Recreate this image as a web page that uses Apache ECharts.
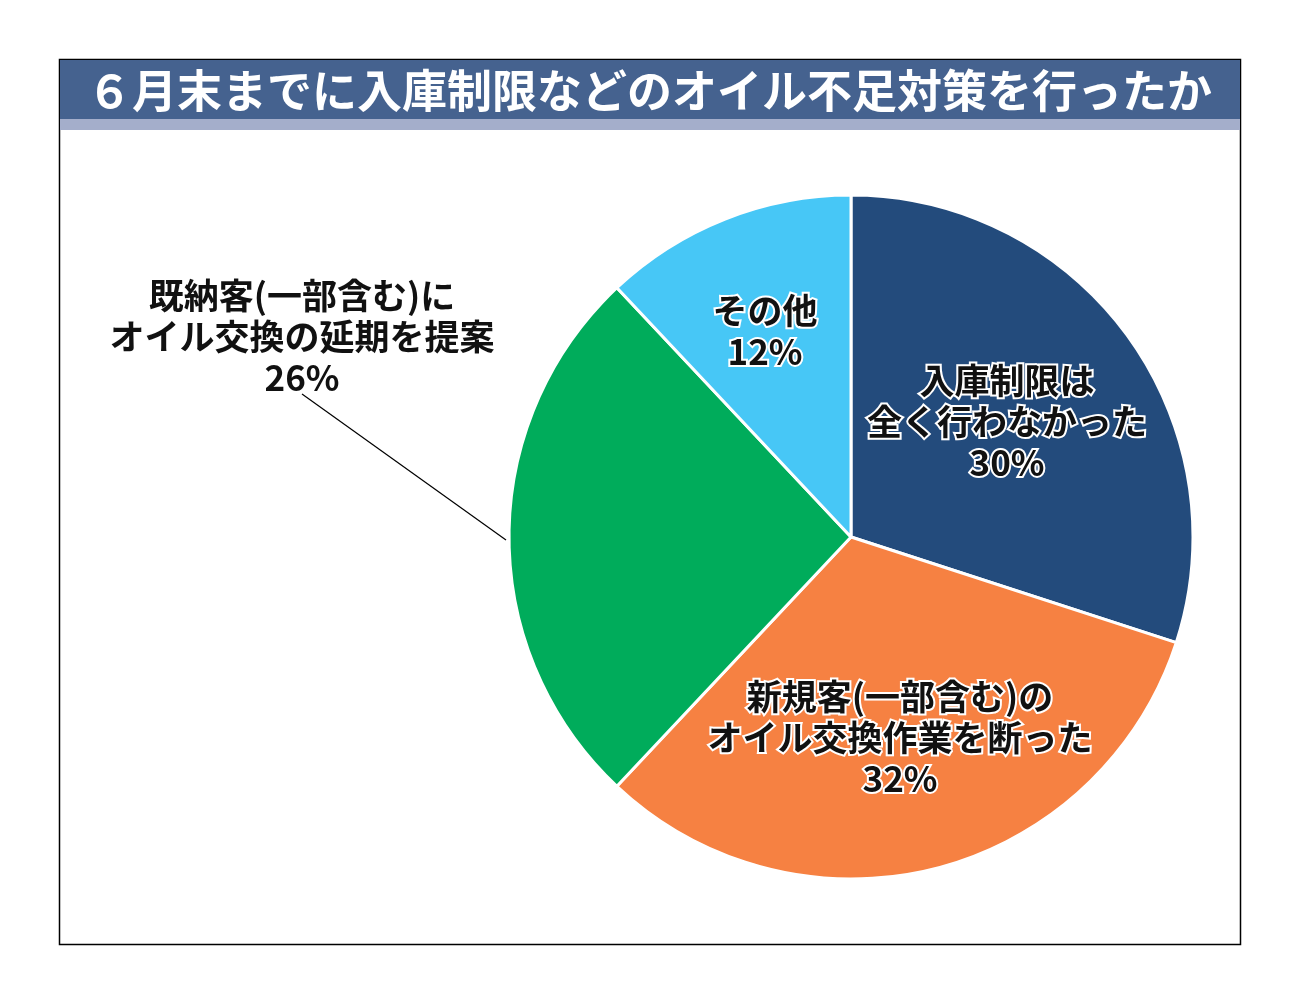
<!DOCTYPE html>
<html lang="ja">
<head>
    <meta charset="UTF-8">
    <title>6月末までに入庫制限などのオイル不足対策を行ったか</title>
    <script src="https://cdn.jsdelivr.net/npm/echarts@6/dist/echarts.min.js"></script>
    <style>
        html, body { margin: 0; padding: 0; background: #ffffff; }
        #main { width: 1299px; height: 1004px; }
    </style>
</head>
<body>
<div id="main"></div>
<script type="text/javascript">
    // データ
    var titleText = '６月末までに入庫制限などのオイル不足対策を行ったか';
    var categories = ['入庫制限は\n全く行わなかった', '新規客(一部含む)の\nオイル交換作業を断った', '既納客(一部含む)に\nオイル交換の延期を提案', 'その他'];
    var values = [30, 32, 26, 12];
    var colors = ['#234b7c', '#f68142', '#00ac5b', '#47c7f6'];

    // ラベルの中心位置（ピクセル）
    var labelCenters = [[1007, 422], [900, 738], [302, 337], [765, 331]];

    var chart = echarts.init(document.getElementById('main'));

    var pieData = categories.map(function (name, i) {
        var item = { name: name, value: values[i], itemStyle: { color: colors[i] } };
        if (i === 2) {
            // 外側ラベル（白背景なので縁取りなし）
            item.label = { position: 'outside', textBorderWidth: 0 };
            item.labelLine = { show: true, lineStyle: { color: '#000000', width: 1.2 } };
        }
        return item;
    });

    var option = {
        backgroundColor: '#ffffff',
        animation: false,
        title: {
            text: titleText,
            left: 'center',
            top: 63,
            textStyle: {
                color: '#ffffff',
                fontSize: 45,
                fontWeight: 'bold',
                fontFamily: 'Noto Sans CJK JP'
            }
        },
        graphic: [
            {   // 外枠
                type: 'rect', z: -10,
                shape: { x: 59.5, y: 59.5, width: 1181, height: 885 },
                style: { fill: '#ffffff', stroke: '#000000', lineWidth: 1.5 }
            },
            {   // タイトル帯
                type: 'rect', z: -9,
                shape: { x: 60, y: 60, width: 1180, height: 59 },
                style: { fill: '#45628f' }
            },
            {   // 下のストライプ
                type: 'rect', z: -9,
                shape: { x: 60, y: 119, width: 1180, height: 11 },
                style: { fill: '#a4aecb' }
            }
        ],
        series: [
            {
                type: 'pie',
                center: [851, 537],
                radius: [0, 342],
                startAngle: 90,
                clockwise: true,
                avoidLabelOverlap: false,
                itemStyle: { borderColor: '#ffffff', borderWidth: 3 },
                label: {
                    show: true,
                    position: 'inside',
                    formatter: '{b}\n{c}%',
                    color: '#111111',
                    fontSize: 35,
                    fontWeight: 'bold',
                    fontFamily: 'Noto Sans CJK JP',
                    lineHeight: 41,
                    align: 'center',
                    textBorderColor: '#ffffff',
                    textBorderWidth: 4
                },
                labelLine: { show: false },
                labelLayout: function (params) {
                    var c = labelCenters[params.dataIndex];
                    var out = { x: c[0], y: c[1], align: 'center', verticalAlign: 'middle' };
                    if (params.dataIndex === 2) {
                        out.labelLinePoints = [[506, 540], [404, 467], [302, 394]];
                    }
                    return out;
                },
                data: pieData
            }
        ]
    };

    chart.setOption(option);
</script>
</body>
</html>
